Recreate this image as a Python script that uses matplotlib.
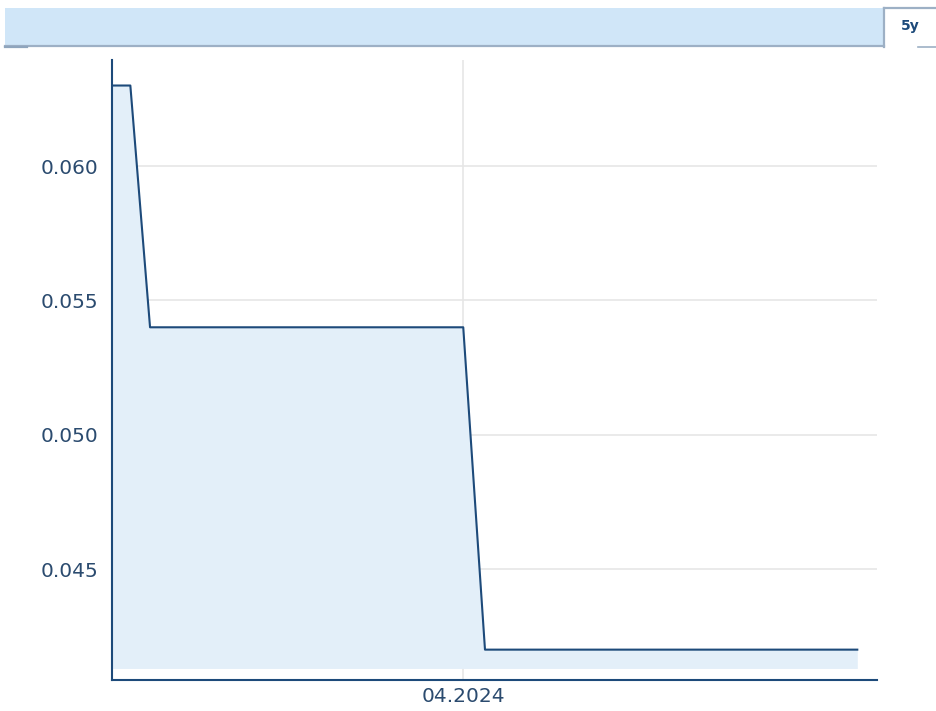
import numpy as np
import pandas as pd
import matplotlib
matplotlib.use("Agg")
import matplotlib.pyplot as plt
from matplotlib.patches import Rectangle
from matplotlib.lines import Line2D

# data
dates = pd.to_datetime(["2022-11-01", "2022-11-28", "2022-12-27",
                        "2024-04-01", "2024-05-03", "2025-11-02"])
values = [0.063, 0.063, 0.054, 0.054, 0.042, 0.042]
y_ticks = [0.045, 0.050, 0.055, 0.060]
x_tick = pd.to_datetime(["2024-04-01"])
x_tick_labels = ["04.2024"]
tab_label = "5y"

line_col = "#1d4a7a"
fill_col = "#e3eff9"
text_col = "#2b4b6f"
grid_col = "#e6e6e6"
border_col = "#9db0c5"

W, H = 936, 711
fig = plt.figure(figsize=(W / 100, H / 100), dpi=100)


def hline(x0, x1, y, col=border_col, lw=1.6):
    fig.lines.append(Line2D([x0 / W, x1 / W], [1 - y / H] * 2,
                            transform=fig.transFigure, color=col, lw=lw))


# header bar with the period tab
fig.patches.append(Rectangle((5 / W, 1 - 46 / H), 879 / W, 38 / H,
                             transform=fig.transFigure, facecolor="#d0e6f8",
                             edgecolor="none", zorder=0))
hline(5, 884, 46)
hline(884, 936, 8)
hline(5, 27, 47, col="#8fa5bd")
hline(918, 936, 47, lw=1.2)
fig.lines.append(Line2D([884 / W] * 2, [1 - 8 / H, 1 - 47 / H],
                        transform=fig.transFigure, color=border_col, lw=1.6))
fig.text(910 / W, 1 - 26 / H, tab_label, ha="center", va="center",
         fontsize=10, fontweight="bold", color="#1d4a7a")

ax = fig.add_axes([112 / W, 31 / H, 765 / W, 620 / H])
ax.set_xlim(pd.Timestamp("2022-11-01"), pd.Timestamp("2025-12-01"))
ax.set_ylim(0.04087, 0.06395)

ax.fill_between(dates, values, 0.0413, color=fill_col, lw=0, zorder=1)
ax.plot(dates, values, color=line_col, lw=1.5, zorder=3)

ax.set_yticks(y_ticks)
ax.set_yticklabels([f"{v:.3f}" for v in y_ticks])
ax.set_xticks(x_tick)
ax.set_xticklabels(x_tick_labels)
ax.tick_params(length=0, colors=text_col, labelsize=14.5)
ax.tick_params(axis="y", pad=10)
ax.tick_params(axis="x", pad=5)
ax.grid(True, color=grid_col, lw=1.2, zorder=0)
ax.set_axisbelow(True)

for s in ["top", "right"]:
    ax.spines[s].set_visible(False)
for s in ["left", "bottom"]:
    ax.spines[s].set_color(line_col)
    ax.spines[s].set_linewidth(1.5)

fig.savefig("out.png", dpi=100)
